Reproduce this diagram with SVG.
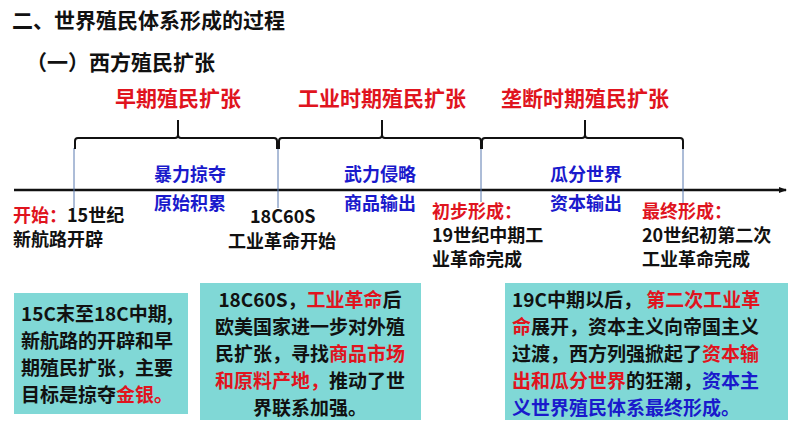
<svg xmlns="http://www.w3.org/2000/svg" width="794" height="447" viewBox="0 0 794 447">
<style>
text{font-family:"Noto Sans CJK SC","Noto Sans",sans-serif;font-weight:bold;fill:#111}
.r{fill:#e0141e}.b{fill:#1a1acc}
.h{font-size:21px}.t{font-size:18px}.u{font-size:19px}
.box{fill:#80d8d6}
.tick{stroke:#5a7ab0;stroke-width:1}
.br{fill:none;stroke:#111;stroke-width:2}
</style>
<defs><marker id="ar" markerWidth="8" markerHeight="8" refX="7" refY="4" orient="auto" markerUnits="userSpaceOnUse"><path d="M0,1 L8,4 L0,7 Z" fill="#111"/></marker></defs>
<text class="h" x="12" y="28">二、世界殖民体系形成的过程</text>
<text class="h" x="26" y="70">（一）西方殖民扩张</text>
<g id="connectors">
<line x1="14" y1="190" x2="786" y2="190" stroke="#111" stroke-width="2.5" marker-end="url(#ar)"/>
<line class="tick" x1="74" y1="148" x2="74" y2="208"/>
<line class="tick" x1="278" y1="148" x2="278" y2="208"/>
<line class="tick" x1="481" y1="148" x2="481" y2="202"/>
<line class="tick" x1="683" y1="148" x2="683" y2="203"/>
<path class="br" d="M75,149 L75,141 Q75,138 78,138 L175,138 Q178,138 178,135 L178,120 M178,135 Q178,138 181,138 L274,138 Q277,138 277,141 L277,149"/>
<path class="br" d="M279,149 L279,141 Q279,138 282,138 L379,138 Q382,138 382,135 L382,120 M382,135 Q382,138 385,138 L478,138 Q481,138 481,141 L481,149"/>
<path class="br" d="M482,149 L482,141 Q482,138 485,138 L582,138 Q585,138 585,135 L585,120 M585,135 Q585,138 588,138 L680,138 Q683,138 683,141 L683,149"/>
</g>
<g id="periods">
<text class="h r" x="178" y="106" text-anchor="middle">早期殖民扩张</text>
<text class="h r" x="382" y="106" text-anchor="middle">工业时期殖民扩张</text>
<text class="h r" x="585" y="106" text-anchor="middle">垄断时期殖民扩张</text>
</g>
<g id="labels">
<text class="t b" x="190" y="181" text-anchor="middle">暴力掠夺</text>
<text class="t b" x="190" y="210" text-anchor="middle">原始积累</text>
<text class="t b" x="380" y="181" text-anchor="middle">武力侵略</text>
<text class="t b" x="380" y="210" text-anchor="middle">商品输出</text>
<text class="t b" x="586" y="181" text-anchor="middle">瓜分世界</text>
<text class="t b" x="586" y="210" text-anchor="middle">资本输出</text>
</g>
<g id="events">
<text class="t" x="13" y="222"><tspan class="r">开始：</tspan>15世纪</text>
<text class="t" x="13" y="246">新航路开辟</text>
<text class="t" x="250" y="223">18C60S</text>
<text class="t" x="228" y="248">工业革命开始</text>
<text class="t r" x="432" y="218">初步形成：</text>
<text class="t" x="432" y="242">19世纪中期工</text>
<text class="t" x="432" y="266">业革命完成</text>
<text class="t r" x="642" y="218">最终形成：</text>
<text class="t" x="642" y="242">20世纪初第二次</text>
<text class="t" x="642" y="266">工业革命完成</text>
</g>
<g id="box1">
<rect class="box" x="14" y="293" width="174" height="121"/>
<text class="u" x="21" y="321">15C末至18C中期,</text>
<text class="u" x="21" y="348">新航路的开辟和早</text>
<text class="u" x="21" y="375">期殖民扩张，主要</text>
<text class="u" x="21" y="402">目标是掠夺<tspan class="r">金银。</tspan></text>
</g>
<g id="box2">
<rect class="box" x="200" y="283" width="221" height="137"/>
<text class="u" x="310" y="307" text-anchor="middle">18C60S，<tspan class="r">工业革命</tspan>后</text>
<text class="u" x="310" y="334" text-anchor="middle">欧美国家进一步对外殖</text>
<text class="u" x="310" y="361" text-anchor="middle">民扩张，寻找<tspan class="r">商品市场</tspan></text>
<text class="u" x="310" y="388" text-anchor="middle"><tspan class="r">和原料产地，</tspan>推动了世</text>
<text class="u" x="310" y="415" text-anchor="middle">界联系加强。</text>
</g>
<g id="box3">
<rect class="box" x="505" y="283" width="283" height="137"/>
<text class="u" x="512" y="307">19C中期以后， <tspan class="r">第二次工业革</tspan></text>
<text class="u" x="512" y="334"><tspan class="r">命</tspan>展开，资本主义向帝国主义</text>
<text class="u" x="512" y="361">过渡，西方列强掀起了<tspan class="r">资本输</tspan></text>
<text class="u" x="512" y="388"><tspan class="r">出和瓜分世界</tspan>的狂潮，<tspan class="b">资本主</tspan></text>
<text class="u b" x="512" y="415">义世界殖民体系最终形成。</text>
</g>
</svg>
